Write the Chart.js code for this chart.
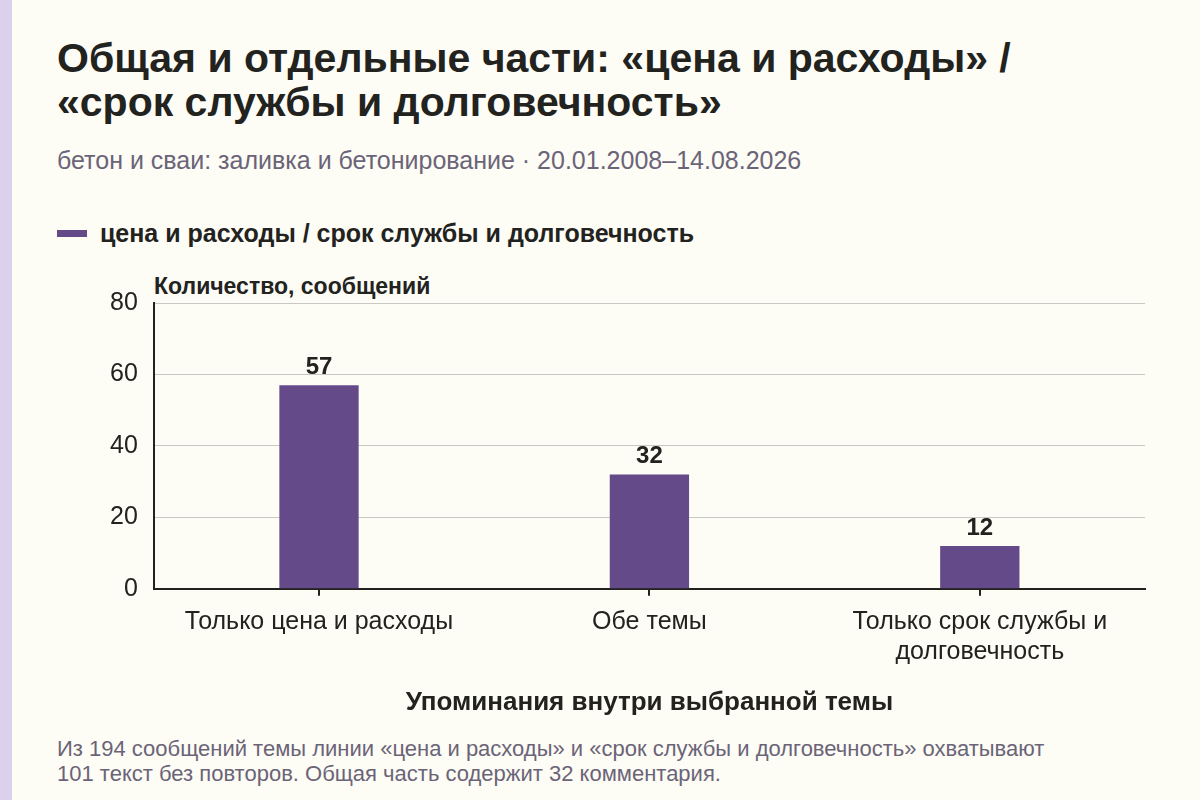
<!DOCTYPE html>
<html><head><meta charset="utf-8">
<script src="https://cdn.jsdelivr.net/npm/chart.js@4.4.1/dist/chart.umd.min.js"></script>
<style>
html,body{margin:0;padding:0;}
body{width:1200px;height:800px;background:#fdfcf5;position:relative;overflow:hidden;font-family:"Liberation Sans",Arial,sans-serif;}
#stripe{position:absolute;left:0;top:0;width:12px;height:800px;background:#dcd1ec;}
#title{position:absolute;left:57px;top:36px;font-weight:bold;font-size:41px;line-height:44px;color:#22221e;white-space:nowrap;}
#sub{position:absolute;left:57px;top:146px;font-size:25px;line-height:29px;color:#6b6478;white-space:nowrap;}
#legend{position:absolute;left:57px;top:219px;font-weight:bold;font-size:25px;line-height:29px;color:#22221e;display:flex;align-items:center;white-space:nowrap;}
#legend .sw{width:30px;height:7px;background:#654a8a;margin-right:13px;}
#ytitle{position:absolute;left:154px;top:273px;font-weight:bold;font-size:23px;line-height:27px;color:#22221e;white-space:nowrap;}
#foot{position:absolute;left:57px;top:736px;font-size:22px;line-height:25px;color:#6b6478;white-space:nowrap;}
#wrap{position:absolute;left:0;top:0;width:1200px;height:800px;}
</style></head><body>
<div id="stripe"></div>
<div id="title">Общая и отдельные части: «цена и расходы» /<br>«срок службы и долговечность»</div>
<div id="sub">бетон и сваи: заливка и бетонирование · 20.01.2008–14.08.2026</div>
<div id="legend"><div class="sw"></div>цена и расходы / срок службы и долговечность</div>
<div id="ytitle">Количество, сообщений</div>
<div id="foot">Из 194 сообщений темы линии «цена и расходы» и «срок службы и долговечность» охватывают<br>101 текст без повторов. Общая часть содержит 32 комментария.</div>
<div id="wrap"><canvas id="c" width="1200" height="800"></canvas></div>
<script>
const categories = [["Только цена и расходы"], ["Обе темы"], ["Только срок службы и", "долговечность"]];
const seriesName = "цена и расходы / срок службы и долговечность";
const values = [57, 32, 12];
const yTicks = [0, 20, 40, 60, 80];

const FONT = '"Liberation Sans", Arial, sans-serif';
const valueLabels = {
  id: 'valueLabels',
  afterDatasetsDraw(chart) {
    const ctx = chart.ctx;
    const meta = chart.getDatasetMeta(0);
    ctx.save();
    ctx.font = 'bold 24px ' + FONT;
    ctx.fillStyle = '#22221e';
    ctx.textAlign = 'center';
    ctx.textBaseline = 'bottom';
    meta.data.forEach((bar, i) => {
      ctx.fillText(String(chart.data.datasets[0].data[i]), bar.x, bar.y - 6);
    });
    ctx.restore();
  }
};

new Chart(document.getElementById('c'), {
  type: 'bar',
  data: {
    labels: categories,
    datasets: [{
      label: seriesName,
      data: values,
      backgroundColor: '#654a8a',
      barPercentage: 0.24,
      categoryPercentage: 1
    }]
  },
  options: {
    responsive: false,
    animation: false,
    devicePixelRatio: 1,
    layout: { padding: { left: 94, right: 55, top: 303, bottom: 82 } },
    plugins: { legend: { display: false }, tooltip: { enabled: false } },
    scales: {
      x: {
        grid: { display: true, drawOnChartArea: false, offset: false, drawTicks: true, tickLength: 7, color: '#22221e', lineWidth: 2 },
        border: { display: true, color: '#22221e', width: 2 },
        ticks: { color: '#22221e', font: { size: 25, family: FONT }, padding: 11, maxRotation: 0, autoSkip: false },
        title: { display: true, text: 'Упоминания внутри выбранной темы', color: '#22221e', font: { size: 26, weight: 'bold', family: FONT }, padding: { top: 9, bottom: 0 } }
      },
      y: {
        min: 0, max: 80,
        afterBuildTicks(axis) { axis.ticks = yTicks.map(v => ({ value: v })); },
        grid: { color: '#c9c9c4', lineWidth: 1, drawTicks: false },
        border: { display: true, color: '#22221e', width: 2 },
        ticks: { color: '#22221e', font: { size: 25, family: FONT }, padding: 16 }
      }
    }
  },
  plugins: [valueLabels]
});
</script>
</body></html>
